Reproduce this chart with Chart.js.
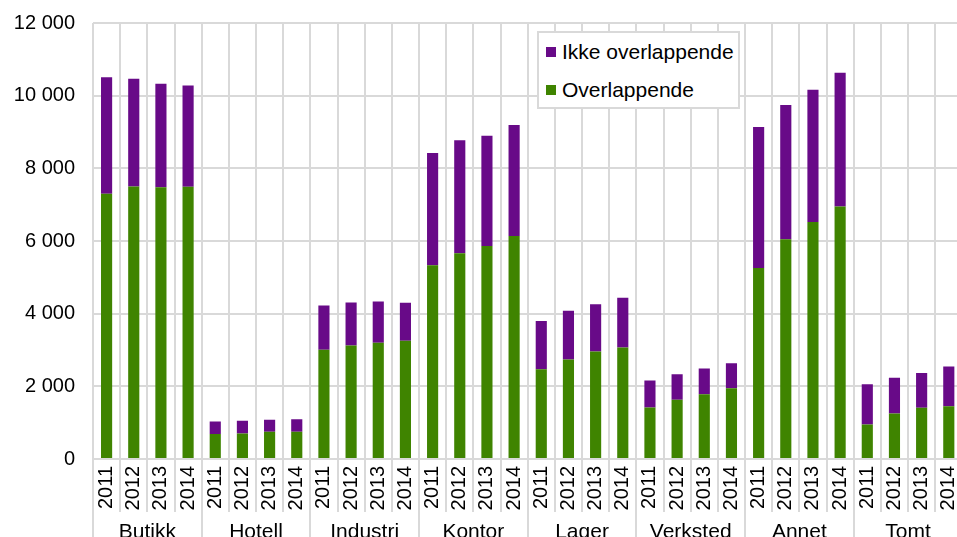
<!DOCTYPE html>
<html>
<head>
<meta charset="utf-8">
<script src="https://cdn.jsdelivr.net/npm/chart.js@4"></script>
<style>
  html, body { margin: 0; padding: 0; background: #fff; overflow: hidden; }
  #wrap { position: absolute; left: 0; top: -7px; width: 980px; height: 559px; }
  #legend {
    position: absolute; left: 537px; top: 31px; width: 203px; height: 78px;
    box-sizing: border-box; border: 2px solid #d9d9d9; background: #fff;
    font-family: "Liberation Sans", Arial, sans-serif; font-size: 21px; color: #000;
  }
  #legend .item { display: flex; align-items: center; height: 38px; padding-left: 7px; }
  #legend .box { width: 10px; height: 10px; margin-right: 6px; }
</style>
</head>
<body>
<div id="wrap"><canvas id="chart"></canvas></div>
<div id="legend"></div>
<script>
const groups = ["Butikk", "Hotell", "Industri", "Kontor", "Lager", "Verksted", "Annet", "Tomt"];
const years = ["2011", "2012", "2013", "2014"];

// values per group, 2011-2014
const overlappende = [
  7300, 7500, 7480, 7490,   // Butikk
  690, 700, 750, 750,       // Hotell
  3005, 3125, 3200, 3255,   // Industri
  5335, 5665, 5865, 6140,   // Kontor
  2470, 2740, 2960, 3070,   // Lager
  1415, 1630, 1785, 1950,   // Verksted
  5260, 6050, 6525, 6950,   // Annet
  950, 1250, 1410, 1455,    // Tomt
];
const ikkeOverlappende = [
  3205, 2965, 2845, 2790,   // Butikk
  340, 350, 330, 345,       // Hotell
  1220, 1180, 1135, 1045,   // Industri
  3090, 3110, 3030, 3055,   // Kontor
  1325, 1340, 1300, 1365,   // Lager
  745, 705, 705, 685,       // Verksted
  3880, 3695, 3635, 3680,   // Annet
  1110, 985, 960, 1090,     // Tomt
];
const yTicks = [0, 2000, 4000, 6000, 8000, 10000, 12000];

const gridColor = "#d9d9d9";
const fontFamily = "'Liberation Sans', Arial, sans-serif";
const labels = groups.flatMap(() => years);

function fmt(v) {
  return String(v).replace(/\B(?=(\d{3})+(?!\d))/g, " ");
}

// tick lines under the axis: short between years, long between groups
const separators = {
  id: "separators",
  afterDraw(chart) {
    const { ctx, chartArea } = chart;
    const x = chart.scales.x;
    const n = labels.length;
    ctx.save();
    ctx.strokeStyle = gridColor;
    ctx.lineWidth = 2;
    for (let i = 0; i <= n; i++) {
      let px;
      if (i === 0) px = chartArea.left;
      else if (i === n) px = chartArea.right;
      else px = (x.getPixelForValue(i - 1) + x.getPixelForValue(i)) / 2;
      const end = i % years.length === 0 ? chart.height : x.bottom;
      ctx.beginPath();
      ctx.moveTo(Math.round(px), chartArea.bottom);
      ctx.lineTo(Math.round(px), end);
      ctx.stroke();
    }
    ctx.restore();
  },
};

const chart = new Chart(document.getElementById("chart"), {
  type: "bar",
  data: {
    labels: labels,
    datasets: [
      {
        label: "Overlappende",
        data: overlappende,
        backgroundColor: "#3f8400",
      },
      {
        label: "Ikke overlappende",
        data: ikkeOverlappende,
        backgroundColor: "#680a88",
      },
    ],
  },
  options: {
    responsive: true,
    maintainAspectRatio: false,
    animation: false,
    barPercentage: 0.41,
    categoryPercentage: 1,
    layout: { padding: { top: 5.5, right: 13, left: 0, bottom: 0 } },
    plugins: {
      legend: { display: false },
      tooltip: { enabled: false },
    },
    scales: {
      x: {
        stacked: true,
        grid: { color: gridColor, lineWidth: 2, offset: true, drawTicks: false },
        border: { display: false },
        ticks: { color: "#000", font: { family: fontFamily, size: 20 }, minRotation: 90, maxRotation: 90, padding: 7, autoSkip: false },
        afterFit: (scale) => { scale.height = 53; },
      },
      x2: {
        type: "category",
        position: "bottom",
        labels: groups,
        offset: true,
        grid: { display: false },
        border: { display: false },
        ticks: { color: "#000", font: { family: fontFamily, size: 21 }, padding: 0 },
        afterFit: (scale) => { scale.height = 40; },
      },
      y: {
        stacked: true,
        min: 0,
        max: 12000,
        afterBuildTicks: (scale) => { scale.ticks = yTicks.map((v) => ({ value: v })); },
        grid: { color: gridColor, lineWidth: 2, drawTicks: false },
        border: { display: false },
        ticks: { color: "#000", font: { family: fontFamily, size: 20 }, padding: 18, callback: (v) => fmt(v) },
        afterFit: (scale) => { scale.width = 93; },
      },
    },
  },
  plugins: [separators],
});

// legend box, top series first
const legend = document.getElementById("legend");
chart.data.datasets.slice().reverse().forEach((ds) => {
  const item = document.createElement("div");
  item.className = "item";
  item.innerHTML = `<span class="box" style="background:${ds.backgroundColor}"></span><span>${ds.label}</span>`;
  legend.appendChild(item);
});
</script>
</body>
</html>
